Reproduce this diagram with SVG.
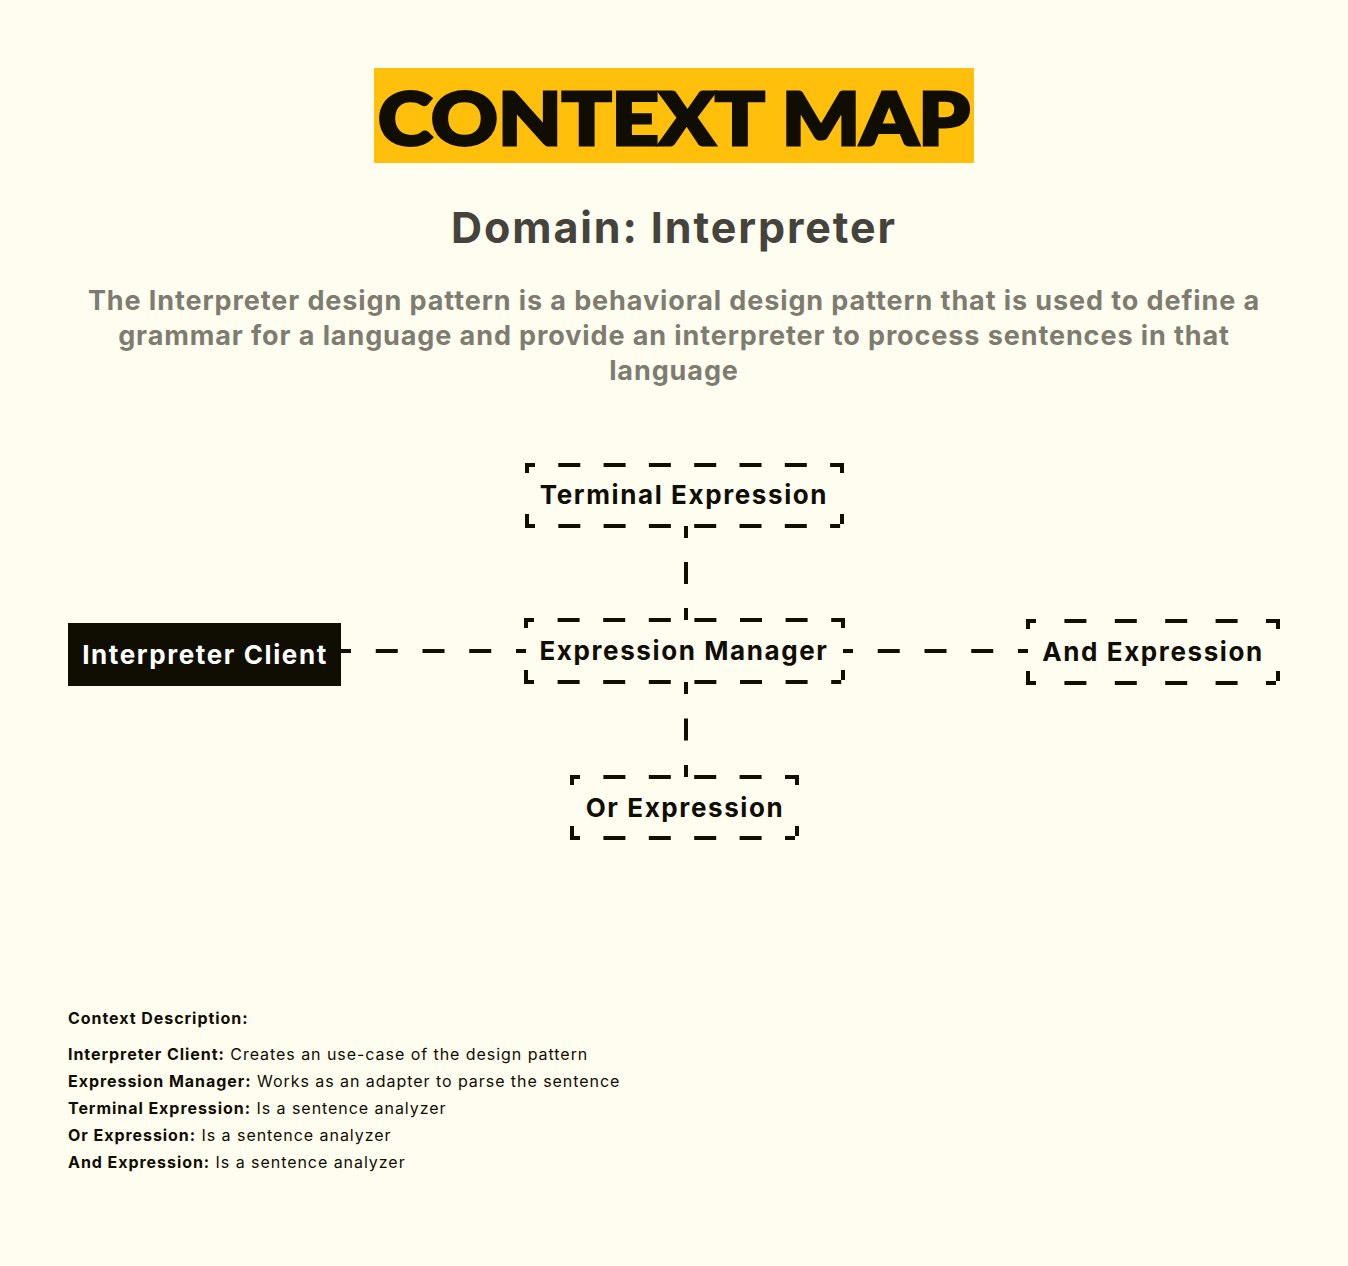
<svg xmlns="http://www.w3.org/2000/svg" width="1348" height="1266" viewBox="0 0 1348 1266">
<style>
.bg{fill:#fffcf0}
.ln{fill:none;stroke:#100d03;stroke-width:4;stroke-linecap:square}
.lbl{font-family:Inter,"Liberation Sans",sans-serif;font-weight:700;font-size:26px;fill:#100d03;text-anchor:middle;letter-spacing:1.6px}
.desc{font-family:Inter,"Liberation Sans",sans-serif;font-size:16px;fill:#100d03;letter-spacing:0.95px}
.b{font-weight:700}
</style>
<rect class="bg" x="0" y="0" width="1348" height="1266"/>
<g id="title">
<rect x="374" y="68" width="600" height="95" fill="#ffbf0a"/>
<text x="674" y="145" font-family="Lato,'DejaVu Sans',sans-serif" font-weight="900" font-size="72" fill="#100d03" stroke="#100d03" stroke-width="3" text-anchor="middle" textLength="592" lengthAdjust="spacingAndGlyphs">CONTEXT MAP</text>
</g>
<text x="674" y="243" font-family="Inter,'Liberation Sans',sans-serif" font-weight="700" font-size="43" fill="#45433c" text-anchor="middle" letter-spacing="1.9">Domain: Interpreter</text>
<g font-family="Inter,'Liberation Sans',sans-serif" font-weight="700" font-size="27" fill="#7e7c70" text-anchor="middle" letter-spacing="0.9">
<text x="674" y="310">The Interpreter design pattern is a behavioral design pattern that is used to define a</text>
<text x="674" y="345">grammar for a language and provide an interpreter to process sentences in that</text>
<text x="674" y="380">language</text>
</g>
<g id="connectors">
<line class="ln" x1="686" y1="528" x2="686" y2="618" stroke-dasharray="8 28 18 28 8"/>
<line class="ln" x1="686" y1="684" x2="686" y2="775" stroke-dasharray="8 28.5 18 28.5 8"/>
<line class="ln" x1="343" y1="651" x2="524" y2="651" stroke-dasharray="6 28.75 18 28.75 18 28.75 18 28.75 6"/>
<line class="ln" x1="845" y1="651" x2="1026" y2="651" stroke-dasharray="6 28.75 18 28.75 18 28.75 18 28.75 6"/>
</g>
<g id="terminal-expression">
<g stroke-dasharray="6 27.3 18 27.3 18 27.3 18 27.3 18 27.3 18 27.3 18 27.3 6">
<line class="ln" x1="527" y1="465" x2="842" y2="465"/>
<line class="ln" x1="527" y1="526" x2="842" y2="526"/>
</g>
<g stroke-dasharray="6 45 6">
<line class="ln" x1="527" y1="465" x2="527" y2="526"/>
<line class="ln" x1="842" y1="465" x2="842" y2="526"/>
</g>
<text class="lbl" x="684" y="504">Terminal Expression</text>
</g>
<g id="expression-manager">
<g stroke-dasharray="6 27.6 18 27.6 18 27.6 18 27.6 18 27.6 18 27.6 18 27.6 6">
<line class="ln" x1="526" y1="620" x2="843" y2="620"/>
<line class="ln" x1="526" y1="682" x2="843" y2="682"/>
</g>
<g stroke-dasharray="6 46 6">
<line class="ln" x1="526" y1="620" x2="526" y2="682"/>
<line class="ln" x1="843" y1="620" x2="843" y2="682"/>
</g>
<text class="lbl" x="684" y="660">Expression Manager</text>
</g>
<g id="interpreter-client">
<rect x="68" y="623" width="273" height="63" fill="#100d03"/>
<text class="lbl" x="205" y="664" style="fill:#ffffff">Interpreter Client</text>
</g>
<g id="and-expression">
<g stroke-dasharray="6 32.4 18 32.4 18 32.4 18 32.4 18 32.4 6">
<line class="ln" x1="1028" y1="621" x2="1278" y2="621"/>
<line class="ln" x1="1028" y1="683" x2="1278" y2="683"/>
</g>
<g stroke-dasharray="6 46 6">
<line class="ln" x1="1028" y1="621" x2="1028" y2="683"/>
<line class="ln" x1="1278" y1="621" x2="1278" y2="683"/>
</g>
<text class="lbl" x="1153" y="661">And Expression</text>
</g>
<g id="or-expression">
<g stroke-dasharray="6 27.4 18 27.4 18 27.4 18 27.4 18 27.4 6">
<line class="ln" x1="572" y1="777" x2="797" y2="777"/>
<line class="ln" x1="572" y1="838" x2="797" y2="838"/>
</g>
<g stroke-dasharray="6 45 6">
<line class="ln" x1="572" y1="777" x2="572" y2="838"/>
<line class="ln" x1="797" y1="777" x2="797" y2="838"/>
</g>
<text class="lbl" x="685" y="817">Or Expression</text>
</g>
<g id="description">
<text class="desc b" x="68" y="1024">Context Description:</text>
<text class="desc" x="68" y="1060"><tspan class="b">Interpreter Client:</tspan> Creates an use-case of the design pattern</text>
<text class="desc" x="68" y="1087"><tspan class="b">Expression Manager:</tspan> Works as an adapter to parse the sentence</text>
<text class="desc" x="68" y="1114"><tspan class="b">Terminal Expression:</tspan> Is a sentence analyzer</text>
<text class="desc" x="68" y="1141"><tspan class="b">Or Expression:</tspan> Is a sentence analyzer</text>
<text class="desc" x="68" y="1168"><tspan class="b">And Expression:</tspan> Is a sentence analyzer</text>
</g>
</svg>
